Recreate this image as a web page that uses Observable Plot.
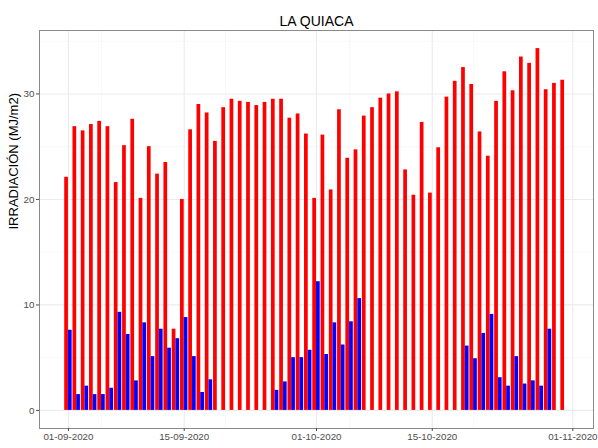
<!DOCTYPE html>
<html>
<head>
<meta charset="utf-8">
<script src="https://cdn.jsdelivr.net/npm/d3@7"></script>
<script src="https://cdn.jsdelivr.net/npm/@observablehq/plot@0.6"></script>
<style>
  html, body { margin: 0; padding: 0; background: #fff; }
  #chart svg { display: block; }
</style>
</head>
<body>
<div id="chart"></div>
<script>
const title = "LA QUIACA";
const yLabel = "IRRADIACIÓN (MJ/m2)";
const startDate = "2020-09-01";
// daily values, 01-09-2020 .. 31-10-2020
const red = [22.1,26.9,26.5,27.1,27.4,26.9,21.6,25.1,27.6,20.1,
             25.0,22.4,23.5,7.7,20.0,26.6,29.0,28.2,25.5,28.7,
             29.5,29.3,29.2,28.9,29.2,29.5,29.5,27.7,28.1,26.2,
             20.1,26.1,20.9,28.5,23.9,24.7,27.9,28.7,29.6,30.0,
             30.2,22.8,20.4,27.3,20.6,24.9,29.7,31.2,32.5,30.9,
             26.4,24.1,29.3,32.1,30.3,33.5,32.9,34.3,30.4,31.0,31.3];
const blue = [7.6,1.5,2.3,1.5,1.5,2.1,9.3,7.2,2.8,8.3,
              5.1,7.7,5.9,6.8,8.8,5.1,1.7,2.9,null,null,
              null,null,null,null,null,1.9,2.7,5.0,5.0,5.7,
              12.2,5.3,8.3,6.2,8.4,10.6,null,null,null,null,
              null,null,null,null,null,null,null,null,6.1,4.9,
              7.3,9.1,3.1,2.3,5.1,2.5,2.8,2.3,7.7,null,null];
const xTickLabels = ["01-09-2020","15-09-2020","01-10-2020","15-10-2020","01-11-2020"];
const xMinorLabels = ["05-09-2020","20-09-2020","05-10-2020","20-10-2020"];
const yTicks = [0, 10, 20, 30];
const yMinor = [5, 15, 25, 35];

const parse = d3.utcParse("%d-%m-%Y");
const fmt = d3.utcFormat("%d-%m-%Y");
const start = d3.utcParse("%Y-%m-%d")(startDate);
const DAY = 864e5;
const dates = red.map((_, i) => d3.utcDay.offset(start, i));
const halfDay = 0.45 * DAY;

const redData = red.map((v, i) => ({x1: +dates[i] - halfDay, x2: +dates[i], y: v}));
const blueData = blue.map((v, i) => ({x1: +dates[i], x2: +dates[i] + halfDay, y: v}))
                     .filter(d => d.y != null);

const xMajor = xTickLabels.map(parse);
const xMin = xMinorLabels.map(parse);

const font = "'Liberation Sans', Arial, Helvetica, sans-serif";

const chart = Plot.plot({
  width: 598,
  height: 448,
  marginTop: 30,
  marginBottom: 20,
  marginLeft: 39,
  marginRight: 5,
  style: {fontFamily: font, background: "#fff"},
  x: {type: "utc", domain: [new Date(+start - 3.5 * DAY), new Date(+start + 63.5 * DAY)]},
  y: {domain: [-1.715, 36.015]},
  marks: [
    Plot.ruleY(yMinor, {stroke: "#f4f4f4", strokeWidth: 0.6}),
    Plot.ruleX(xMin, {stroke: "#f4f4f4", strokeWidth: 0.6}),
    Plot.ruleY(yTicks, {stroke: "#ebebeb", strokeWidth: 1.1}),
    Plot.ruleX(xMajor, {stroke: "#ebebeb", strokeWidth: 1.1}),
    Plot.rectY(redData, {x1: "x1", x2: "x2", y1: 0, y2: "y", fill: "#ff0000"}),
    Plot.rectY(blueData, {x1: "x1", x2: "x2", y1: 0, y2: "y", fill: "#0000ff"}),
    Plot.frame({stroke: "#8a8a8a", strokeWidth: 1}),
    Plot.axisY({ticks: yTicks, tickSize: 3, tickPadding: 2, fontSize: 9.8, color: "#4d4d4d", label: null}),
    Plot.axisX({ticks: xMajor, tickFormat: fmt, tickSize: 3, tickPadding: 2, fontSize: 9.8, color: "#4d4d4d", label: null}),
    Plot.text([title], {frameAnchor: "top", dy: -14, fontSize: 14, fill: "#000"}),
    Plot.text([yLabel], {frameAnchor: "left", rotate: -90, dx: -26, fontSize: 13, fill: "#000"})
  ]
});
document.getElementById("chart").appendChild(chart);
</script>
</body>
</html>
